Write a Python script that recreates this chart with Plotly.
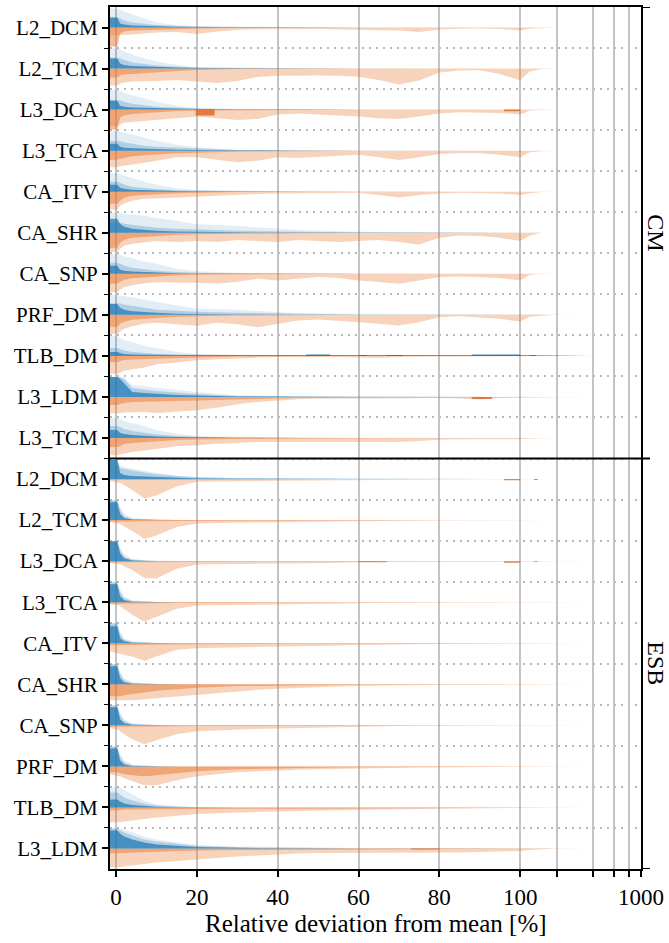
import numpy as np
import plotly.graph_objects as go

# ---------------- data (heights in px of a 41 px row; x in % deviation) ----------------
ROW_NAMES = ["L2_DCM", "L2_TCM", "L3_DCA", "L3_TCA", "CA_ITV", "CA_SHR", "CA_SNP",
             "PRF_DM", "TLB_DM", "L3_LDM", "L3_TCM",
             "L2_DCM", "L2_TCM", "L3_DCA", "L3_TCA", "CA_ITV", "CA_SHR", "CA_SNP",
             "PRF_DM", "TLB_DM", "L3_LDM"]
FACETS = ["CM", "ESB"]
FACET_SIZES = [11, 10]

BX = [-1.5, 0.3, 1, 2, 4, 7, 10, 15, 20, 30, 45, 60, 100, 200, 400]
OX = [-1.5, 0.3, 1, 2, 4, 7, 10, 15, 20, 25, 30, 35, 40, 45, 50, 55, 60, 65, 70,
      75, 80, 85, 90, 95, 100, 120, 150, 200]

BLUE_OUTER = [
    [19, 19, 18, 16, 13, 9, 5, 2.5, 1.2, 0.8, 0.5, 0.3, 0, 0, 0],
    [20, 20, 19, 17, 14, 10, 7, 3.5, 1.3, 0.8, 0.4, 0.2, 0, 0, 0],
    [20, 20, 19, 17, 14.5, 11, 8, 4, 1.7, 0.8, 0.4, 0.2, 0, 0, 0],
    [20, 20, 19.5, 18, 16.5, 13, 10, 6, 3.3, 1, 0.5, 0.3, 0, 0, 0],
    [18.5, 18.5, 17.5, 16, 14, 10, 7, 3.5, 1.7, 1, 0.5, 0.2, 0, 0, 0],
    [20, 20, 20, 19, 18.5, 17, 15, 11.7, 8.5, 6.7, 2.7, 1, 0.3, 0, 0],
    [20, 20, 19, 17.5, 15.5, 12, 10, 5, 2.5, 1, 0.5, 0.2, 0, 0, 0],
    [20, 20, 19.5, 19, 17.5, 15, 12.7, 9.3, 6, 5, 1.7, 1, 0.5, 0, 0],
    [20, 20, 18, 16, 14, 10, 8, 4, 1.7, 1, 0.5, 0.3, 0.2, 0, 0],
    [20, 20, 20, 19, 12, 11, 9.3, 7.3, 5, 1.7, 0.7, 0.5, 0.3, 0, 0],
    [20, 20, 19, 17, 15, 12, 7.7, 4.3, 1.7, 1, 0.5, 0.2, 0, 0, 0],
    [19, 19, 13, 12, 10.5, 8, 6, 3.3, 2, 1, 0.5, 0.2, 0, 0, 0],
    [20, 20, 14, 6, 2, 1, 0.5, 0.2, 0, 0, 0, 0, 0, 0, 0],
    [20, 20, 14, 7, 2.5, 1, 0.5, 0.2, 0, 0, 0, 0, 0, 0, 0],
    [20, 20, 13, 6, 2, 1, 0.5, 0.2, 0, 0, 0, 0, 0, 0, 0],
    [20, 20, 12, 5, 2, 1, 0.5, 0.2, 0, 0, 0, 0, 0, 0, 0],
    [20, 20, 13, 6, 2, 1, 0.5, 0.2, 0, 0, 0, 0, 0, 0, 0],
    [20, 20, 13, 6, 2, 1, 0.5, 0.2, 0, 0, 0, 0, 0, 0, 0],
    [20, 20, 13, 6, 2, 1, 0.5, 0.2, 0, 0, 0, 0, 0, 0, 0],
    [20, 20, 20, 18, 13, 6.7, 3.3, 1.2, 0.5, 0, 0, 0, 0, 0, 0],
    [20, 20, 20, 19, 16, 12, 9, 6, 3.5, 2, 1, 0.5, 0.2, 0, 0],
]
BLUE_MID = [
    [10, 10, 9, 7, 5, 3.5, 2.5, 1.5, 1, 0.5, 0.3, 0, 0, 0, 0],
    [11, 11, 10, 8.5, 6, 4.5, 3, 1.8, 1, 0.5, 0.2, 0, 0, 0, 0],
    [10, 10, 9.5, 8, 6, 4.5, 3, 1.8, 1, 0.4, 0.2, 0, 0, 0, 0],
    [10, 10, 9.5, 8.5, 7, 5, 4, 3, 2, 0.7, 0.3, 0, 0, 0, 0],
    [10, 10, 9, 7, 5, 3.5, 2.5, 1.5, 1, 0.4, 0.2, 0, 0, 0, 0],
    [10, 10, 10, 9, 8, 7, 5, 4, 3.3, 2, 1, 0.4, 0, 0, 0],
    [11, 11, 10, 8, 6, 4.5, 3, 1.8, 1, 0.4, 0.2, 0, 0, 0, 0],
    [12, 12, 11.5, 10.5, 9, 7, 5, 4, 3, 2, 1, 0.4, 0, 0, 0],
    [8, 8, 7, 5.5, 4, 3, 2, 1.5, 1.2, 0.8, 0.5, 0.3, 0.2, 0, 0],
    [20, 20, 20, 18, 9, 7.5, 6, 4.5, 3, 1, 0.3, 0, 0, 0, 0],
    [12, 12, 11, 9, 7, 5, 3.5, 2, 1.2, 0.5, 0.2, 0, 0, 0, 0],
    [19, 19, 11, 10, 8.5, 6.5, 4.7, 3, 1.7, 0.8, 0.2, 0, 0, 0, 0],
    [20, 20, 10, 4, 1.2, 0.5, 0.2, 0, 0, 0, 0, 0, 0, 0, 0],
    [20, 20, 11, 4.5, 1.5, 0.5, 0.2, 0, 0, 0, 0, 0, 0, 0, 0],
    [20, 20, 10, 4, 1.2, 0.5, 0.2, 0, 0, 0, 0, 0, 0, 0, 0],
    [20, 20, 9, 3.5, 1.2, 0.5, 0.2, 0, 0, 0, 0, 0, 0, 0, 0],
    [20, 20, 10, 4, 1.2, 0.5, 0.2, 0, 0, 0, 0, 0, 0, 0, 0],
    [20, 20, 10, 4, 1.2, 0.5, 0.2, 0, 0, 0, 0, 0, 0, 0, 0],
    [20, 20, 10, 4, 1.2, 0.5, 0.2, 0, 0, 0, 0, 0, 0, 0, 0],
    [15, 15, 13, 10, 7, 4, 2, 0.8, 0.3, 0, 0, 0, 0, 0, 0],
    [20, 20, 18, 16, 13, 9, 7, 4.5, 2.5, 1.2, 0.5, 0.2, 0, 0, 0],
]
BLUE_INNER = [
    [10, 10, 4, 3, 2, 1.5, 1, 0.7, 0.5, 0.3, 0, 0, 0, 0, 0],
    [10, 10, 5, 3.5, 2.5, 2, 1.5, 1, 0.6, 0.3, 0, 0, 0, 0, 0],
    [9, 9, 4, 3, 2.2, 1.8, 1.3, 1, 0.6, 0.3, 0, 0, 0, 0, 0],
    [7, 7, 4, 3, 2.5, 2, 1.5, 1, 0.7, 0.3, 0, 0, 0, 0, 0],
    [7, 7, 4, 3, 2, 1.5, 1, 0.6, 0.4, 0.2, 0, 0, 0, 0, 0],
    [14, 14, 9, 6, 4, 3, 2, 1.2, 0.8, 0.4, 0.2, 0, 0, 0, 0],
    [8, 8, 4, 3, 2.2, 1.6, 1, 0.6, 0.4, 0.2, 0, 0, 0, 0, 0],
    [11, 11, 7, 5, 3.5, 2.5, 2, 1.2, 0.8, 0.4, 0.2, 0, 0, 0, 0],
    [4, 4, 3, 2, 1.5, 1.2, 1, 1, 1, 0.8, 0.8, 0.8, 0.8, 0.6, 0.4],
    [20, 20, 18, 14, 5, 4, 3, 2, 1.5, 0.5, 0.2, 0, 0, 0, 0],
    [8, 8, 5, 4, 3, 2, 1.5, 1, 0.6, 0.3, 0, 0, 0, 0, 0],
    [19, 19, 6, 4, 3, 2.5, 2, 1, 0.5, 0.2, 0, 0, 0, 0, 0],
    [18, 18, 6, 2, 0.5, 0.2, 0, 0, 0, 0, 0, 0, 0, 0, 0],
    [20, 20, 8, 3, 0.7, 0.2, 0, 0, 0, 0, 0, 0, 0, 0, 0],
    [18, 18, 6, 2, 0.5, 0.2, 0, 0, 0, 0, 0, 0, 0, 0, 0],
    [17, 17, 5, 2, 0.5, 0.2, 0, 0, 0, 0, 0, 0, 0, 0, 0],
    [18, 18, 6, 2, 0.5, 0.2, 0, 0, 0, 0, 0, 0, 0, 0, 0],
    [18, 18, 6, 2, 0.5, 0.2, 0, 0, 0, 0, 0, 0, 0, 0, 0],
    [18, 18, 6, 2, 0.5, 0.2, 0, 0, 0, 0, 0, 0, 0, 0, 0],
    [8, 8, 6, 4, 2.5, 1.5, 0.8, 0.3, 0, 0, 0, 0, 0, 0, 0],
    [18, 18, 15, 12, 9, 6, 4, 2.5, 1.5, 0.7, 0.3, 0, 0, 0, 0],
]
ORANGE_OUTER = [
    [8, 8, 8, 7.5, 7, 6, 5, 4.5, 6.5, 4, 2.5, 1.8, 1.5, 1.5, 1.5, 2, 2.5, 2.8, 3, 4.5, 2, 1.3, 1, 1.5, 3, 1.2, 0.8, 0],
    [17, 17, 15, 14, 13, 13, 12.5, 11.5, 13, 14.5, 12.5, 8.5, 7.3, 6.8, 7, 7.3, 8.3, 11.5, 16, 12, 4, 2, 1.7, 5.5, 11.7, 3, 0.5, 0],
    [16.7, 16.7, 15, 13, 12.5, 11.5, 10.3, 8.7, 7, 8.7, 10.3, 9.3, 5, 4, 5, 5.7, 7, 8.7, 9.3, 7, 4, 2.7, 2.7, 3.3, 5, 1, 0.3, 0],
    [16.7, 16.7, 15.5, 15, 14, 12, 10, 6.7, 6.7, 9, 11.7, 10, 6.7, 7.3, 6, 5, 4, 6.7, 9.3, 6.7, 3.3, 2.3, 2.7, 4, 6.7, 1.5, 0.5, 0],
    [18, 18, 14, 11.7, 9, 7, 6.7, 5.7, 5, 4.3, 3.3, 2.3, 1.7, 1.5, 1.5, 1.5, 1, 3.3, 5.7, 3.3, 1.7, 1, 1, 1.7, 3.3, 1.5, 0.3, 0],
    [19, 19, 16, 13, 11, 9.3, 8.3, 9.3, 8.3, 9.3, 7.3, 8.3, 9.3, 7.3, 8.3, 9.3, 8.3, 7.3, 9.3, 11.7, 5, 2.7, 3.3, 5, 8.3, 3, 0, 0],
    [18.5, 18.5, 16, 13.5, 11.5, 9.5, 8.5, 8.5, 9, 10, 8, 5, 6.7, 5, 3.3, 4.3, 6.7, 8.3, 10, 6.7, 3.3, 2.7, 3.3, 4.3, 6.7, 1, 0.3, 0],
    [19, 19, 17, 14, 11.5, 9, 8, 9.3, 11, 8, 9.3, 12.3, 9, 5.7, 4.7, 5.7, 7.3, 9, 10.7, 7.3, 2.3, 1.3, 2.3, 4, 6.7, 2, 1, 0],
    [18, 18, 17, 15, 13.5, 11.7, 8.3, 6.7, 4.3, 3.3, 2.3, 1.7, 1.2, 1, 1, 1, 1.7, 2, 1, 0.5, 0.5, 0.5, 0.5, 0.5, 0.5, 0, 0, 0],
    [16.7, 16.7, 16, 15.5, 15, 15, 16, 15, 13.3, 10.7, 7.3, 5, 3.3, 2.3, 1.7, 1.5, 1.3, 1, 1, 1, 1, 1.5, 2.5, 1, 0.5, 0.5, 0.3, 0],
    [17.3, 17.3, 16.5, 15.7, 14, 12.5, 10.7, 8.3, 7.3, 5.7, 5, 4, 4, 4, 4, 4, 4, 4, 4, 3, 1.7, 1.3, 1.3, 1.3, 1.3, 0.5, 0, 0],
    [2, 3, 4, 6, 11, 19.5, 16.5, 7.5, 2.7, 2.5, 2.5, 2, 1.7, 1.5, 1.2, 1, 1, 0.8, 0.6, 0.5, 0.4, 0.3, 0.3, 0.3, 0.3, 0, 0, 0],
    [2, 3, 4, 6.5, 11, 19, 15.5, 7, 3.3, 3, 2.7, 2.2, 1.7, 1.5, 1.3, 1.1, 1, 0.6, 0.4, 0.3, 0.2, 0.2, 0.2, 0.2, 0.2, 0, 0, 0],
    [1.5, 2.3, 3, 5, 9, 17, 17.5, 7.5, 3.3, 3.1, 3, 2.7, 2.5, 2.2, 2, 1.5, 0.8, 0.6, 0.5, 0.3, 0.3, 0.3, 0.3, 0.3, 0.3, 0.2, 0, 0],
    [2, 2.7, 4, 7, 12.5, 19.5, 14.5, 6.5, 3.3, 3.1, 3, 2.6, 2.3, 2.1, 2, 1.7, 1.3, 0.9, 0.5, 0.4, 0.3, 0.3, 0.3, 0.2, 0.2, 0.1, 0, 0],
    [8, 10, 10.5, 11.7, 13.3, 17.5, 13.3, 6.5, 5, 4.7, 4.3, 3.8, 3.3, 3, 2.7, 2.2, 1.7, 1.3, 1, 0.7, 0.5, 0.4, 0.3, 0.3, 0.2, 0.1, 0, 0],
    [16, 16, 16, 16, 16, 15, 14, 12, 10, 8.5, 7, 5.5, 4.5, 3.5, 2.8, 2.2, 1.6, 1.2, 0.9, 0.6, 0.5, 0.4, 0.3, 0.2, 0.2, 0.1, 0, 0],
    [3, 4, 6, 9, 14, 19, 15, 9, 6, 5, 4.3, 3.7, 3.2, 2.7, 2.2, 1.7, 1, 0.5, 0.3, 0.2, 0.1, 0.1, 0, 0, 0, 0, 0, 0],
    [8, 9, 10, 12, 15, 19, 19, 14, 10, 8, 6, 5, 4, 3.5, 3, 2.5, 2, 1.7, 1.4, 1.2, 1, 0.8, 0.6, 0.5, 0.4, 0.2, 0, 0],
    [15, 15, 14.5, 14, 13.3, 11.5, 10, 8.3, 6.7, 5.8, 5, 4.5, 4, 3.5, 3, 2.5, 2.2, 2, 1.8, 1.6, 1.5, 1.3, 1.2, 1, 1, 0.7, 0.5, 0.3],
    [19, 19, 18.5, 18, 16.7, 15.5, 14, 12.3, 10.7, 9.5, 8, 7, 5.7, 5, 4.5, 4.5, 4.5, 4.5, 4.5, 4.5, 4.5, 4, 3.5, 3, 2.5, 1.5, 1, 0.5],
]
ORANGE_INNER = [
    [19, 19, 6, 4, 3, 2.5, 2, 1.5, 1, 0.6, 0.3, 0, 0, 0, 0],
    [9, 9, 7, 6, 5.5, 4.5, 3.5, 2.5, 1.5, 0.5, 0.3, 0, 0, 0, 0],
    [20, 20, 8, 6, 4.5, 3.5, 2.5, 1.5, 1, 0.5, 0.3, 0, 0, 0, 0],
    [9, 9, 8, 7, 5.5, 4.5, 3.5, 2.5, 2, 1, 0.5, 0, 0, 0, 0],
    [12, 12, 9, 6, 4, 3, 2.5, 1.5, 1, 0.4, 0, 0, 0, 0, 0],
    [15, 15, 10, 7, 5, 4, 3, 2, 1.5, 0.8, 0.4, 0, 0, 0, 0],
    [10, 10, 8, 6, 4.5, 3.5, 2.5, 1.5, 1, 0.5, 0.2, 0, 0, 0, 0],
    [12, 12, 9, 7, 5, 4, 3, 2, 1.5, 0.7, 0.3, 0, 0, 0, 0],
    [6, 6, 5, 4, 3.5, 3, 2.5, 2, 1.5, 0.7, 0.3, 0.2, 0, 0, 0],
    [8, 8, 7, 6, 5, 4.5, 4.5, 4, 3.5, 2, 1, 0.8, 0.5, 0, 0],
    [9, 9, 8, 6, 5, 4, 3, 2, 1.5, 0.8, 0.4, 0.2, 0, 0, 0],
    [1, 1, 1.5, 1.5, 1.5, 1.2, 1, 0.8, 0.6, 0.4, 0.2, 0, 0, 0, 0],
    [1.5, 1.5, 1.5, 1.5, 1.5, 1.2, 1, 0.8, 0.6, 0.4, 0.2, 0.1, 0, 0, 0],
    [1, 1, 1.2, 1.2, 1.2, 1, 1, 0.8, 0.7, 0.6, 0.5, 0.5, 0.4, 0.2, 0],
    [1.5, 1.5, 1.5, 1.5, 1.5, 1.2, 1, 0.8, 0.7, 0.5, 0.4, 0.3, 0.2, 0, 0],
    [2, 2, 2, 2, 1.8, 1.5, 1.2, 1, 0.8, 0.6, 0.5, 0.4, 0.2, 0, 0],
    [12, 12, 12, 11, 10, 8, 6.5, 5, 3.5, 1.8, 0.8, 0.4, 0.2, 0, 0],
    [1.5, 1.5, 1.5, 1.5, 1.5, 1.2, 1, 0.8, 0.7, 0.5, 0.4, 0.3, 0.2, 0, 0],
    [6, 6, 7, 8, 9, 10, 9, 7, 5, 3, 1.5, 0.8, 0.5, 0, 0],
    [3, 3, 2.5, 2, 2, 1.8, 1.7, 1.5, 1.5, 1.3, 1.2, 1, 0.8, 0.5, 0.2],
    [5, 5, 5, 4.5, 4, 3.5, 3, 2.5, 2, 1.5, 1.2, 1, 0.8, 0.3, 0.1],
]
# isolated dense histogram bins
ORANGE_SPIKE_ROW = [2, 2, 9, 11, 11, 13, 13, 13, 20]
ORANGE_SPIKE_X0 = [19.7, 96, 88, 96, 130, 60, 96, 130, 73]
ORANGE_SPIKE_X1 = [24.4, 100, 93, 100, 140, 67, 100, 140, 80]
ORANGE_SPIKE_H = [6, 1.7, 2, 1.2, 1, 1, 1.5, 0.8, 1]
BLUE_SPIKE_ROW = [8, 8, 8, 8, 8]
BLUE_SPIKE_X0 = [47, 60, 67, 88, 120]
BLUE_SPIKE_X1 = [53, 62, 71, 100, 135]
BLUE_SPIKE_H = [1.5, 1, 1, 1.5, 1]

X_TICK_VALUES = [0, 20, 40, 60, 80, 100, 200, 400, 600, 800, 1000]
X_TICK_TEXT = ["0", "20", "40", "60", "80", "100", "", "", "", "", "1000"]

# ---------------- scale helpers ----------------
LOG_DECADE = 29.9      # width of the 100..1000 decade in linear-% units (symlog-like)
ROW_PX = 41.14         # pixels per row


def xu(x):
    x = np.asarray(x, float)
    return np.where(x <= 100, x, 100 + LOG_DECADE * np.log10(np.clip(x, 100, None) / 100))


def polygons(xs, heights, sign):
    ux = list(xu(xs))
    X, Y = [], []
    for i, h in enumerate(heights):
        base = -i
        hh = [base + sign * v / ROW_PX for v in h]
        X += ux + ux[::-1] + [None]
        Y += hh + [base] * len(ux) + [None]
    return X, Y


def rects(rows, x0s, x1s, hs, sign):
    X, Y = [], []
    for r, a, b, h in zip(rows, x0s, x1s, hs):
        ua, ub = float(xu(a)), float(xu(b))
        top = -r + sign * h / ROW_PX
        X += [ua, ub, ub, ua, ua, None]
        Y += [-r, -r, top, top, -r, None]
    return X, Y


fig = go.Figure()


def add(X, Y, color):
    fig.add_trace(go.Scatter(x=X, y=Y, mode="lines", fill="toself", fillcolor=color,
                             line=dict(width=0), hoverinfo="skip", showlegend=False))


add(*polygons(OX, ORANGE_OUTER, -1), "rgba(232,120,50,0.33)")
add(*polygons(BX, ORANGE_INNER, -1), "rgba(232,120,50,0.5)")
add(*rects(ORANGE_SPIKE_ROW, ORANGE_SPIKE_X0, ORANGE_SPIKE_X1, ORANGE_SPIKE_H, -1), "rgba(222,108,40,0.85)")
add(*polygons(BX, BLUE_OUTER, 1), "rgba(31,119,180,0.13)")
add(*polygons(BX, BLUE_MID, 1), "rgba(31,119,180,0.25)")
add(*polygons(BX, BLUE_INNER, 1), "rgba(31,119,180,0.72)")
add(*rects(BLUE_SPIKE_ROW, BLUE_SPIKE_X0, BLUE_SPIKE_X1, BLUE_SPIKE_H, 1), "rgba(31,119,180,0.85)")

n = len(ROW_NAMES)
boundaries = [-(i + 0.5) for i in range(n - 1)]
sep = -(FACET_SIZES[0] - 0.5)

fig.update_layout(
    width=669, height=943,
    margin=dict(l=110, r=26, t=5, b=74),
    paper_bgcolor="white", plot_bgcolor="white",
    font=dict(family="Liberation Serif, Times New Roman, serif", color="black"),
    xaxis=dict(range=[-1.5, float(xu(1000))], tickvals=list(xu(X_TICK_VALUES)),
               ticktext=X_TICK_TEXT, ticks="outside", ticklen=6, tickwidth=1.5,
               tickcolor="black", showgrid=True, gridcolor="#c4c4c4", gridwidth=2,
               showline=True, linecolor="black", linewidth=2, mirror=True,
               zeroline=False, tickfont=dict(size=23)),
    yaxis=dict(range=[-n + 0.5, 0.5], tickvals=[-i for i in range(n)], ticktext=ROW_NAMES,
               ticks="outside", ticklen=6, tickwidth=1.5, tickcolor="black",
               showgrid=False, showline=True, linecolor="black", linewidth=2,
               mirror=True, zeroline=False, tickfont=dict(size=21), automargin=False,
               minor=dict(tickvals=boundaries, ticks="outside", ticklen=4, tickwidth=1.2,
                          tickcolor="black", showgrid=True, gridcolor="#b8b8b8",
                          griddash="2px,5px", gridwidth=1.5)),
)

# facet separator and the short right-hand facet ticks
fig.add_shape(type="line", xref="paper", yref="y", x0=0, x1=1.017, y0=sep, y1=sep,
              line=dict(color="black", width=2), layer="above")
for yv in [0.5, -n + 0.5]:
    fig.add_shape(type="line", xref="paper", yref="y", x0=1, x1=1.017, y0=yv, y1=yv,
                  line=dict(color="black", width=2), layer="above")

centers = [(0.5 + sep) / 2, (sep + (-n + 0.5)) / 2]
for name, yc in zip(FACETS, centers):
    fig.add_annotation(text=name, xref="paper", yref="y", x=1.029, y=yc, showarrow=False,
                       textangle=90, font=dict(size=24), xanchor="center", yanchor="middle")

fig.add_annotation(text="Relative deviation from mean [%]", xref="paper", yref="paper",
                   x=0.5, y=-0.0637, showarrow=False, font=dict(size=25),
                   xanchor="center", yanchor="middle")

fig.write_html("out.html", config={"displayModeBar": False},
               post_script="document.body.style.margin='0';document.body.style.padding='0';")
